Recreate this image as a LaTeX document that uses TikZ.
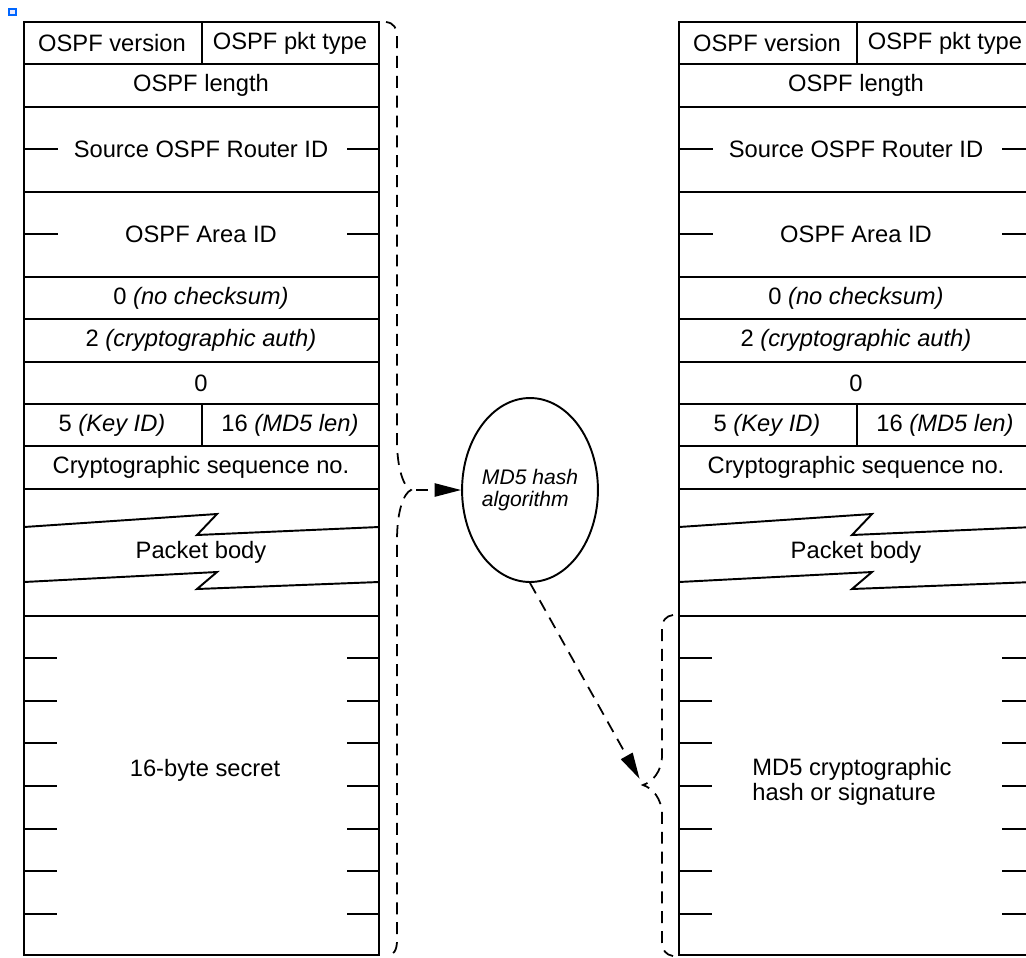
\documentclass[tikz,border=0pt]{standalone}
\usepackage{fontspec}
\setmainfont{Liberation Sans}
\usetikzlibrary{shapes.geometric,arrows.meta}

\begin{document}
\begin{tikzpicture}[
    x=0.02cm, y=-0.02cm,
    wordline/.style={line width=1.1pt},
    tickmark/.style={line width=1.1pt},
    thintick/.style={line width=0.6pt},
    field/.style={inner sep=0pt, align=left, font=\fontsize{13.5}{14.5}\selectfont},
    hashbox/.style={draw, ellipse, line width=1.1pt, minimum width=2.7cm, minimum height=3.68cm, inner sep=0pt, align=left, font=\fontsize{12}{12.5}\selectfont\itshape},
    dashline/.style={line width=1pt, dash pattern=on 6.8pt off 4.5pt},
    arrow/.style={dashline, -{Triangle[length=15pt,width=7.5pt]}},
    icon/.style={draw=blue!60!cyan, fill=blue!8, line width=0.6pt}
]
\useasboundingbox (0,0) rectangle (1026,957);
\clip (0,0) rectangle (1026,957);

\draw[icon] (9,9) rectangle (16,15);

\foreach \side/\dx/\secx/\secy/\secret in {L/0/205/770/{16-byte secret}, R/655/197/782/{MD5 cryptographic\\hash or signature}} {
\begin{scope}[shift={(\dx,0)}, name prefix=\side-]
\draw[wordline] (24,22) rectangle (379,955);
\foreach \y in {64,107,192,277,319,362,404,446,489,616}
    \draw[wordline] (24,\y) -- (379,\y);
\draw[wordline] (202,22) -- (202,64);
\draw[wordline] (202,404) -- (202,446);
\draw[thintick] (24,149) -- (58,149) (347,149) -- (379,149);
\draw[tickmark] (24,234) -- (58,234) (347,234) -- (379,234);
\foreach \y in {658,701,743,786,829,871,914}
    \draw[tickmark] (24,\y) -- (57,\y) (347,\y) -- (379,\y);
\draw[wordline] (24,527) -- (217,514) -- (197,535) -- (379,527);
\draw[wordline] (24,582) -- (217,572) -- (197,589) -- (379,582);

\node[field] (ver) at (112,43) {OSPF version};
\node[field] (type) at (290,43) {OSPF pkt type};
\node[field] (len) at (201,85) {OSPF length};
\node[field] (rid) at (201,149) {Source OSPF Router ID};
\node[field] (area) at (201,234) {OSPF Area ID};
\node[field] (chk) at (201,298) {0 \textit{(no checksum)}};
\node[field] (auth) at (201,340) {2 \textit{(cryptographic auth)}};
\node[field] (zero) at (201,383) {0};
\node[field] (key) at (112,425) {5 \textit{(Key ID)}};
\node[field] (mdlen) at (290,425) {16 \textit{(MD5 len)}};
\node[field] (seq) at (201,467) {Cryptographic sequence no.};
\node[field] (body) at (201,552) {Packet body};
\node[field] (secret) at (\secx,\secy) {\secret};
\end{scope}
}

\node[hashbox] (hash) at (530,490) {MD5 hash\\algorithm};
\coordinate (lefttip) at (411,490);
\coordinate (righttip) at (643,785);

\draw[dashline] (386,22) .. controls (394,23) and (397,28) .. (397,38)
    -- (397,440) .. controls (397,470) and (404,487) .. (lefttip)
    .. controls (404,493) and (397,510) .. (397,540)
    -- (397,940) .. controls (397,950) and (394,955) .. (387,956);
\draw[dashline] (673,615) .. controls (666,616) and (662,620) .. (662,630)
    -- (662,755) .. controls (662,772) and (652,782) .. (righttip)
    .. controls (652,788) and (662,798) .. (662,815)
    -- (662,942) .. controls (662,950) and (666,955) .. (673,956);

\draw[arrow, shorten <=3pt] (lefttip) -- (hash);
\draw[arrow, shorten >=4pt] (hash.south) -- (righttip);
\end{tikzpicture}
\end{document}
